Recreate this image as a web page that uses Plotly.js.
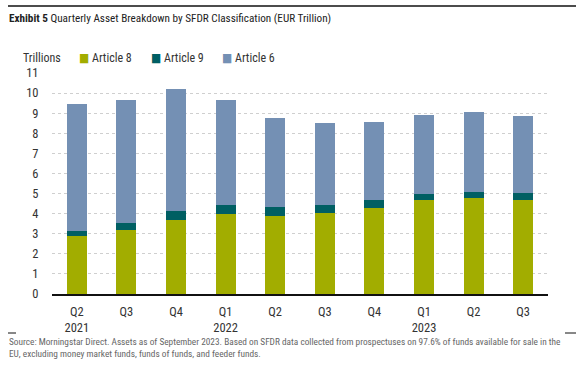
<!DOCTYPE html>
<html>
<head>
<meta charset="utf-8">
<script src="https://cdn.plot.ly/plotly-3.0.1.min.js"></script>
<style>html,body{margin:0;padding:0;background:#fff;}#chart{width:576px;height:370px;}</style>
</head>
<body>
<div id="chart"></div>
<script>
const quarters = ["Q2 2021","Q3 2021","Q4 2021","Q1 2022","Q2 2022","Q3 2022","Q4 2022","Q1 2023","Q2 2023","Q3 2023"];
const tickLabels = ["Q2<br>2021","Q3","Q4","Q1<br>2022","Q2","Q3","Q4","Q1<br>2023","Q2","Q3"];
const article8 = [2.87, 3.20, 3.70, 3.97, 3.90, 4.02, 4.30, 4.70, 4.76, 4.70];
const article9 = [0.28, 0.34, 0.45, 0.45, 0.42, 0.40, 0.36, 0.26, 0.30, 0.31];
const article6 = [6.33, 6.14, 6.03, 5.23, 4.45, 4.11, 3.92, 3.96, 4.02, 3.87];
const seriesNames = ["Article 8","Article 9","Article 6"];
const colors = ["#A2AD00","#005F63","#7490B4"];

const FONT = "'Roboto Condensed','DejaVu Sans Condensed',sans-serif";
const W = 576, H = 370;
const M = {l:52, r:28, t:73, b:76};
const pw = W - M.l - M.r, ph = H - M.t - M.b;
const px = x => (x - M.l) / pw;
const py = y => (H - M.b - y) / ph;

const vals = [article8, article9, article6];
const traces = seriesNames.map((n,i) => ({
  type: 'bar', name: n, x: quarters, y: vals[i],
  marker: {color: colors[i], line: {width: 0}},
  showlegend: false, hoverinfo: 'y+name'
}));

const legendText = seriesNames.map((n,i) =>
  `<span style="color:${colors[i]}">■</span> ${n}`);

const annotations = [
  {text: "<b>Exhibit 5</b> Quarterly Asset Breakdown by SFDR Classification (EUR Trillion)",
   xref:'paper', yref:'paper', x: px(7), y: py(19), xanchor:'left', yanchor:'middle',
   showarrow:false, font:{family:FONT, size:11.2, color:'#222'}},
  {text: "Trillions", xref:'paper', yref:'paper', x: px(21), y: py(58), xanchor:'left', yanchor:'middle',
   showarrow:false, font:{family:FONT, size:12, color:'#333'}},
  {text: legendText[0], xref:'paper', yref:'paper', x: px(77), y: py(58), xanchor:'left', yanchor:'middle',
   showarrow:false, font:{family:FONT, size:12, color:'#333'}},
  {text: legendText[1], xref:'paper', yref:'paper', x: px(149), y: py(58), xanchor:'left', yanchor:'middle',
   showarrow:false, font:{family:FONT, size:12, color:'#333'}},
  {text: legendText[2], xref:'paper', yref:'paper', x: px(220), y: py(58), xanchor:'left', yanchor:'middle',
   showarrow:false, font:{family:FONT, size:12, color:'#333'}},
  {text: "Source: Morningstar Direct. Assets as of September 2023. Based on SFDR data collected from prospectuses on 97.6% of funds available for sale in the<br>EU, excluding money market funds, funds of funds, and feeder funds.",
   xref:'paper', yref:'paper', x: px(7), y: py(334), xanchor:'left', yanchor:'top', align:'left',
   showarrow:false, font:{family:FONT, size:9.3, color:'#666'}}
];

const shapes = [
  {type:'line', xref:'paper', yref:'paper', x0: px(8), x1: px(576), y0: py(6), y1: py(6), line:{color:'#111', width:1.5}},
  {type:'line', xref:'paper', yref:'paper', x0: px(8), x1: px(16), y0: py(333), y1: py(333), line:{color:'#111', width:1}},
  {type:'line', xref:'paper', yref:'paper', x0: px(565), x1: px(576), y0: py(333), y1: py(333), line:{color:'#111', width:1}}
];

const layout = {
  width: W, height: H, margin: M,
  barmode: 'stack', bargap: 0.6,
  paper_bgcolor:'#fff', plot_bgcolor:'#fff',
  font: {family: FONT, size: 12, color:'#333'},
  xaxis: {type:'category', tickmode:'array', tickvals: quarters, ticktext: tickLabels,
    showline:true, linecolor:'#111', linewidth:1.5, showgrid:false, zeroline:false,
    ticks:'outside', ticklen:5, tickcolor:'rgba(0,0,0,0)', fixedrange:true,
    tickfont:{family:FONT, size:12.5, color:'#333'}},
  yaxis: {range:[0,11], dtick:1, showline:false, zeroline:false,
    showgrid:true, gridcolor:'#cfcfcf', gridwidth:1, griddash:'dot',
    ticks:'outside', ticklen:10, tickcolor:'rgba(0,0,0,0)', fixedrange:true,
    tickfont:{family:FONT, size:12.5, color:'#333'}},
  annotations, shapes, showlegend:false
};

Plotly.newPlot('chart', traces, layout, {displayModeBar:false, staticPlot:true});
</script>
</body>
</html>
